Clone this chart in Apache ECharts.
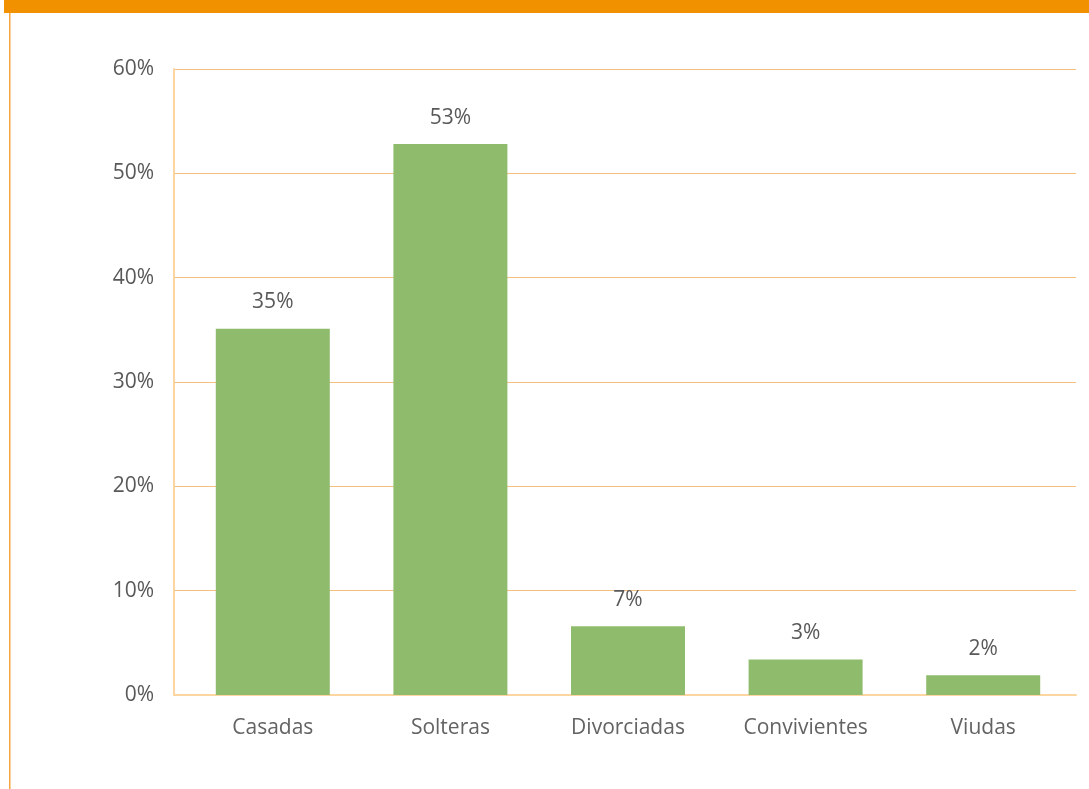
<!DOCTYPE html>
<html>
<head>
<meta charset="utf-8">
<script src="https://cdn.jsdelivr.net/npm/echarts@6/dist/echarts.min.js"></script>
<style>
  html, body { margin: 0; padding: 0; background: #fff; }
  #chart { width: 1089px; height: 789px; }
</style>
</head>
<body>
<div id="chart"></div>
<script>
// Estado civil: categories and shares (%)
const categories = ['Casadas', 'Solteras', 'Divorciadas', 'Convivientes', 'Viudas'];
const shares = [35.1, 52.8, 6.6, 3.4, 1.9];
const yTicks = [0, 10, 20, 30, 40, 50, 60];

const chart = echarts.init(document.getElementById('chart'), null, { renderer: 'canvas' });

const font = '"Open Sans", "Noto Sans", sans-serif';
const textColor = '#595959';
const yMin = yTicks[0];
const yMax = yTicks[yTicks.length - 1];

chart.setOption({
  animation: false,
  backgroundColor: '#ffffff',
  graphic: [
    // orange header band
    { type: 'rect', left: 4, top: 0, shape: { width: 1085, height: 13 }, style: { fill: '#F29100' }, silent: true, z: 10 },
    // left frame rule
    { type: 'rect', left: 9, top: 13, shape: { width: 1.5, height: 776 }, style: { fill: '#F5A640' }, silent: true }
  ],
  grid: [
    // frame: value axis, gridlines and baseline
    { left: 174, right: 13, top: 69, bottom: 94, containLabel: false },
    // bars and category labels
    { left: 184, right: 17, top: 69, bottom: 94, containLabel: false }
  ],
  xAxis: [
    {
      gridIndex: 0,
      type: 'value',
      min: 0,
      max: 1,
      axisLine: { show: true, lineStyle: { color: '#FDD5A0', width: 2 } },
      axisTick: { show: false },
      axisLabel: { show: false },
      splitLine: { show: false }
    },
    {
      gridIndex: 1,
      type: 'category',
      data: categories,
      axisLine: { show: false },
      axisTick: { show: false },
      splitLine: { show: false },
      axisLabel: { color: '#636363', fontFamily: font, fontSize: 21, margin: 23 }
    }
  ],
  yAxis: [
    {
      gridIndex: 0,
      type: 'value',
      min: yMin,
      max: yMax,
      interval: 10,
      axisLine: { show: true, lineStyle: { color: '#FDD5A0', width: 2 } },
      axisTick: { show: false },
      splitLine: { show: true, lineStyle: { color: '#F5C07F', width: 1 } },
      axisLabel: { color: textColor, fontFamily: font, fontSize: 21, margin: 20, formatter: v => v + '%' }
    },
    {
      gridIndex: 1,
      type: 'value',
      min: yMin,
      max: yMax,
      interval: 10,
      show: false,
      axisLine: { show: false },
      axisLabel: { show: false },
      splitLine: { show: false }
    }
  ],
  series: [{
    type: 'bar',
    xAxisIndex: 1,
    yAxisIndex: 1,
    data: shares,
    barWidth: 114,
    itemStyle: { color: '#8FBC6C' },
    label: {
      show: true,
      position: 'top',
      distance: 16,
      color: textColor,
      fontFamily: font,
      fontSize: 21,
      formatter: p => Math.round(p.value) + '%'
    }
  }]
});
</script>
</body>
</html>
